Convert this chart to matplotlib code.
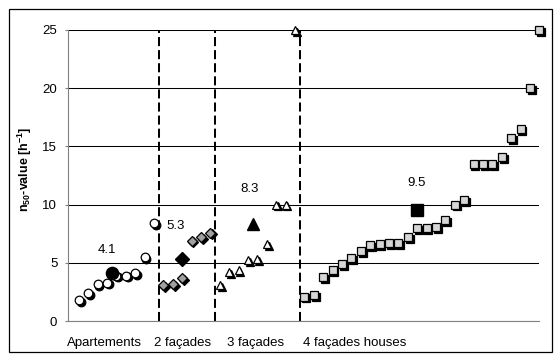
import matplotlib
matplotlib.use("Agg")
import matplotlib.pyplot as plt
import matplotlib.transforms as mtransforms
from matplotlib.patches import Rectangle
import numpy as np

plt.rcParams['font.family'] = ['Liberation Sans', 'DejaVu Sans']
plt.rcParams['mathtext.fontset'] = 'custom'
plt.rcParams['mathtext.rm'] = 'Liberation Sans'
plt.rcParams['mathtext.bf'] = 'Liberation Sans:bold'

# n50 values per building type, sorted ascending
apartments = [1.8, 2.4, 3.2, 3.3, 3.9, 3.9, 4.1, 5.5, 8.4]
two_facades = [3.1, 3.2, 3.7, 6.9, 7.2, 7.6]
three_facades = [3.1, 4.2, 4.4, 5.2, 5.3, 6.6, 10.0, 10.0, 25.0]
four_facades = [2.1, 2.2, 3.8, 4.4, 4.9, 5.4, 6.0, 6.5, 6.6, 6.7, 6.7, 7.2, 8.0,
                8.0, 8.1, 8.7, 10.0, 10.4, 13.5, 13.5, 13.5, 14.1, 15.7, 16.5,
                20.0, 25.0]
group_means = [4.1, 5.3, 8.3, 9.5]
mean_pos = [3.5, 11, 18.5, 36]
mean_labels = ['4.1', '5.3', '8.3', '9.5']
group_names = ['Apartements', '2 façades', '3 façades', '4 façades houses']
group_sep = [8.5, 14.5, 23.5]

fig = plt.figure(figsize=(5.55, 3.56), dpi=100)
ax = fig.add_axes([68/555, 1-321/356, (539.3-68)/555, (321-30)/356])

# drop shadow under the small markers
shadow = mtransforms.offset_copy(ax.transData, fig=fig, x=1.8, y=-1.8, units='dots')

groups = [apartments, two_facades, three_facades, four_facades]
styles = [
    dict(marker='o', ms=6.2, mfc='white'),
    dict(marker='D', ms=4.6, mfc='#a0a0a0'),
    dict(marker='^', ms=6.4, mfc='white'),
    dict(marker='s', ms=5.6, mfc='#d6d6d6'),
]
mean_styles = [
    dict(marker='o', ms=8.8),
    dict(marker='D', ms=7.0),
    dict(marker='^', ms=9.0),
    dict(marker='s', ms=8.6),
]

start = 0
for vals, st in zip(groups, styles):
    x = np.arange(start, start + len(vals))
    ax.plot(x, vals, ls='none', marker=st['marker'], ms=st['ms'], mfc='black',
            mec='black', mew=0.9, transform=shadow, clip_on=False, zorder=3)
    ax.plot(x, vals, ls='none', marker=st['marker'], ms=st['ms'], mfc=st['mfc'],
            mec='black', mew=0.9, clip_on=False, zorder=4)
    start += len(vals)

for xm, m, st in zip(mean_pos, group_means, mean_styles):
    ax.plot([xm], [m], ls='none', marker=st['marker'], ms=st['ms'],
            color='black', zorder=5)

label_off = [(-3.2, 16.8), (-4.5, 24.2), (-2.4, 25.2), (-0.4, 19.5)]
for xm, m, lab, off in zip(mean_pos, group_means, mean_labels, label_off):
    ax.annotate(lab, (xm, m), xytext=off, textcoords='offset points',
                ha='center', va='center', fontsize=9.5)

for xs in group_sep:
    ax.axvline(xs, color='black', lw=1.45, dashes=(4.5, 2.0), zorder=2)

ax.set_xlim(-1.14, 49)
ax.set_ylim(0, 25)
ax.set_yticks(range(0, 26, 5))
ax.set_xticks([])
ax.yaxis.grid(True, color='black', lw=0.75)
ax.set_axisbelow(True)
for s in ['top', 'right']:
    ax.spines[s].set_visible(False)
ax.spines['left'].set_color('#808080')
ax.spines['bottom'].set_color('#808080')
ax.tick_params(axis='y', length=2.2, color='#808080', labelsize=9.5, pad=5.5)

ax.set_ylabel(r'n$_\mathbf{50}$-value [h$^\mathbf{-1}$]', fontsize=9,
              fontweight='bold')
ax.yaxis.set_label_coords(-0.072, 0.52)

name_pos = [-1.28, 8.0, 15.74, 23.9]
btrans = mtransforms.blended_transform_factory(ax.transData, ax.transAxes)
for xp, name in zip(name_pos, group_names):
    ax.text(xp, -0.075, name, transform=btrans, ha='left', va='center',
            fontsize=9.5)

fig.patches.append(Rectangle((8.5/555, 1-352/356), (552-8.5)/555, (352-9)/356,
                             transform=fig.transFigure, fill=False,
                             edgecolor='black', lw=0.9))

plt.savefig('out.png', dpi=100)
